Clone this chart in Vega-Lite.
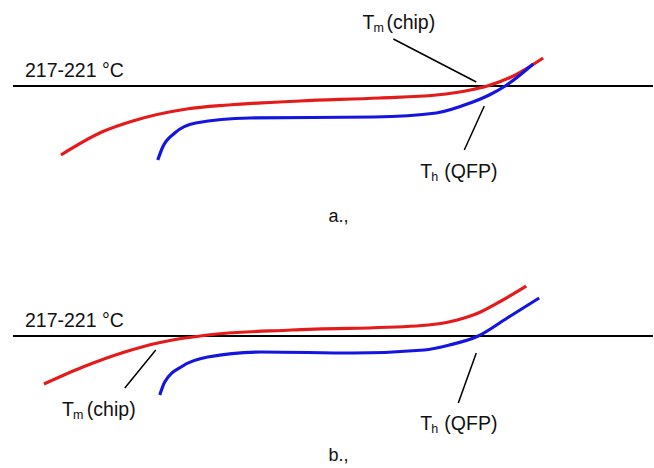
{
  "$schema": "https://vega.github.io/schema/vega-lite/v6.json",
  "width": 654,
  "height": 468,
  "padding": 0,
  "autosize": {"type": "fit", "contains": "padding"},
  "background": "white",
  "config": {"view": {"stroke": null}},
  "datasets": {
    "curves": [
      {"curve": "a-chip", "series": "chip", "x": 61, "y": 155},
      {"curve": "a-chip", "series": "chip", "x": 102, "y": 132},
      {"curve": "a-chip", "series": "chip", "x": 133, "y": 121},
      {"curve": "a-chip", "series": "chip", "x": 187, "y": 109},
      {"curve": "a-chip", "series": "chip", "x": 229, "y": 105},
      {"curve": "a-chip", "series": "chip", "x": 300, "y": 101},
      {"curve": "a-chip", "series": "chip", "x": 380, "y": 98},
      {"curve": "a-chip", "series": "chip", "x": 437, "y": 95},
      {"curve": "a-chip", "series": "chip", "x": 471, "y": 90},
      {"curve": "a-chip", "series": "chip", "x": 488, "y": 86},
      {"curve": "a-chip", "series": "chip", "x": 512, "y": 77},
      {"curve": "a-chip", "series": "chip", "x": 544, "y": 58},
      {"curve": "a-qfp", "series": "qfp", "x": 158, "y": 160},
      {"curve": "a-qfp", "series": "qfp", "x": 163, "y": 147},
      {"curve": "a-qfp", "series": "qfp", "x": 175, "y": 133},
      {"curve": "a-qfp", "series": "qfp", "x": 196, "y": 123},
      {"curve": "a-qfp", "series": "qfp", "x": 250, "y": 118},
      {"curve": "a-qfp", "series": "qfp", "x": 375, "y": 117},
      {"curve": "a-qfp", "series": "qfp", "x": 437, "y": 113},
      {"curve": "a-qfp", "series": "qfp", "x": 471, "y": 103},
      {"curve": "a-qfp", "series": "qfp", "x": 490, "y": 95},
      {"curve": "a-qfp", "series": "qfp", "x": 506, "y": 86},
      {"curve": "a-qfp", "series": "qfp", "x": 534, "y": 64},
      {"curve": "b-chip", "series": "chip", "x": 44, "y": 384},
      {"curve": "b-chip", "series": "chip", "x": 83, "y": 367},
      {"curve": "b-chip", "series": "chip", "x": 125, "y": 352},
      {"curve": "b-chip", "series": "chip", "x": 158, "y": 343},
      {"curve": "b-chip", "series": "chip", "x": 208, "y": 335},
      {"curve": "b-chip", "series": "chip", "x": 292, "y": 330},
      {"curve": "b-chip", "series": "chip", "x": 417, "y": 326},
      {"curve": "b-chip", "series": "chip", "x": 458, "y": 320},
      {"curve": "b-chip", "series": "chip", "x": 479, "y": 313},
      {"curve": "b-chip", "series": "chip", "x": 500, "y": 302},
      {"curve": "b-chip", "series": "chip", "x": 527, "y": 286},
      {"curve": "b-qfp", "series": "qfp", "x": 160, "y": 395},
      {"curve": "b-qfp", "series": "qfp", "x": 165, "y": 382},
      {"curve": "b-qfp", "series": "qfp", "x": 183, "y": 366},
      {"curve": "b-qfp", "series": "qfp", "x": 208, "y": 357},
      {"curve": "b-qfp", "series": "qfp", "x": 262, "y": 352},
      {"curve": "b-qfp", "series": "qfp", "x": 354, "y": 353},
      {"curve": "b-qfp", "series": "qfp", "x": 425, "y": 350},
      {"curve": "b-qfp", "series": "qfp", "x": 450, "y": 345},
      {"curve": "b-qfp", "series": "qfp", "x": 479, "y": 336},
      {"curve": "b-qfp", "series": "qfp", "x": 508, "y": 318},
      {"curve": "b-qfp", "series": "qfp", "x": 540, "y": 298}
    ],
    "rules": [
      {"x": 13, "x2": 654, "y": 86, "y2": 86, "kind": "level"},
      {"x": 13, "x2": 654, "y": 336, "y2": 336, "kind": "level"},
      {"x": 394, "x2": 477, "y": 39, "y2": 82, "kind": "leader"},
      {"x": 485, "x2": 465, "y": 106, "y2": 150, "kind": "leader"},
      {"x": 156, "x2": 125, "y": 350, "y2": 388, "kind": "leader"},
      {"x": 477, "x2": 459, "y": 353, "y2": 403, "kind": "leader"}
    ],
    "labels": [
      {"x": 25, "y": 77, "text": "217-221 °C", "size": 19.5, "font": "Liberation Sans"},
      {"x": 25, "y": 327, "text": "217-221 °C", "size": 19.5, "font": "Liberation Sans"},
      {"x": 363, "y": 29, "text": "T", "size": 19.5, "font": "Liberation Sans"},
      {"x": 374, "y": 32, "text": "m", "size": 12.5, "font": "Liberation Sans"},
      {"x": 387, "y": 29, "text": "(chip)", "size": 19.5, "font": "Liberation Sans"},
      {"x": 421, "y": 178, "text": "T", "size": 19.5, "font": "Liberation Sans"},
      {"x": 432, "y": 181, "text": "h", "size": 12.5, "font": "Liberation Sans"},
      {"x": 445, "y": 178, "text": "(QFP)", "size": 19.5, "font": "Liberation Sans"},
      {"x": 62, "y": 416, "text": "T", "size": 19.5, "font": "Liberation Sans"},
      {"x": 73, "y": 419, "text": "m", "size": 12.5, "font": "Liberation Sans"},
      {"x": 87, "y": 416, "text": "(chip)", "size": 19.5, "font": "Liberation Sans"},
      {"x": 421, "y": 430, "text": "T", "size": 19.5, "font": "Liberation Sans"},
      {"x": 432, "y": 433, "text": "h", "size": 12.5, "font": "Liberation Sans"},
      {"x": 445, "y": 430, "text": "(QFP)", "size": 19.5, "font": "Liberation Sans"},
      {"x": 329, "y": 222, "text": "a.,", "size": 18, "font": "Liberation Serif"},
      {"x": 329, "y": 461, "text": "b.,", "size": 18, "font": "Liberation Serif"}
    ]
  },
  "layer": [
    {
      "data": {"name": "rules"},
      "mark": {"type": "rule", "color": "black"},
      "encoding": {
        "x": {"field": "x", "type": "quantitative", "scale": {"domain": [0, 654], "nice": false, "zero": false}, "axis": null},
        "x2": {"field": "x2"},
        "y": {"field": "y", "type": "quantitative", "scale": {"domain": [0, 468], "nice": false, "zero": false, "reverse": true}, "axis": null},
        "y2": {"field": "y2"},
        "strokeWidth": {"field": "kind", "type": "nominal", "scale": {"domain": ["level", "leader"], "range": [2, 1.5]}, "legend": null}
      }
    },
    {
      "data": {"name": "curves"},
      "mark": {"type": "line", "interpolate": "monotone", "strokeWidth": 3.2, "strokeCap": "butt"},
      "encoding": {
        "x": {"field": "x", "type": "quantitative"},
        "y": {"field": "y", "type": "quantitative"},
        "detail": {"field": "curve"},
        "color": {"field": "series", "type": "nominal", "scale": {"domain": ["chip", "qfp"], "range": ["#e41b1b", "#1515e0"]}, "legend": null}
      }
    },
    {
      "data": {"name": "labels"},
      "mark": {"type": "text", "align": "left", "baseline": "alphabetic", "color": "#111"},
      "encoding": {
        "x": {"field": "x", "type": "quantitative"},
        "y": {"field": "y", "type": "quantitative"},
        "text": {"field": "text"},
        "size": {"field": "size", "type": "quantitative", "scale": null},
        "font": {"field": "font", "type": "nominal", "scale": null}
      }
    }
  ]
}
